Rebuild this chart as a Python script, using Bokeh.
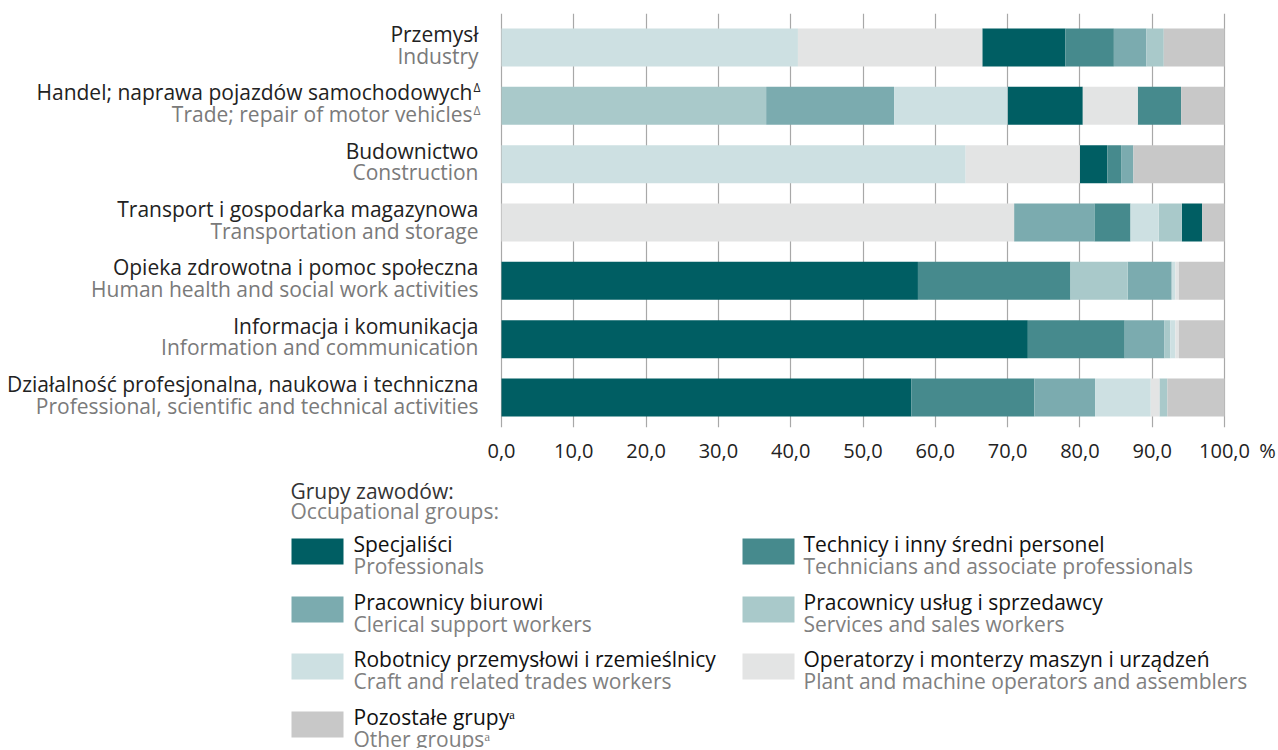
from bokeh.plotting import figure
from bokeh.models import Range1d, FixedTicker, ColumnDataSource
from bokeh.layouts import column
from bokeh.embed import file_html
from bokeh.resources import INLINE
from bokeh.core.properties import value

# ---------------- data ----------------
sectors_pl = [
    "Przemysł",
    "Handel; naprawa pojazdów samochodowych",
    "Budownictwo",
    "Transport i gospodarka magazynowa",
    "Opieka zdrowotna i pomoc społeczna",
    "Informacja i komunikacja",
    "Działalność profesjonalna, naukowa i techniczna",
]
sectors_en = [
    "Industry",
    "Trade; repair of motor vehicles",
    "Construction",
    "Transportation and storage",
    "Human health and social work activities",
    "Information and communication",
    "Professional, scientific and technical activities",
]
sector_marks = ["", "Δ", "", "", "", "", ""]

groups_pl = [
    "Specjaliści",
    "Technicy i inny średni personel",
    "Pracownicy biurowi",
    "Pracownicy usług i sprzedawcy",
    "Robotnicy przemysłowi i rzemieślnicy",
    "Operatorzy i monterzy maszyn i urządzeń",
    "Pozostałe grupyᵃ",
]
groups_en = [
    "Professionals",
    "Technicians and associate professionals",
    "Clerical support workers",
    "Services and sales workers",
    "Craft and related trades workers",
    "Plant and machine operators and assemblers",
    "Other groupsᵃ",
]

professionals = [11.5, 10.4, 3.8, 2.8, 57.6, 72.8, 56.7]
technicians   = [6.7, 6.0, 1.9, 5.0, 21.1, 13.4, 17.0]
clerical      = [4.5, 17.7, 1.7, 11.1, 6.1, 5.5, 8.4]
services      = [2.4, 36.6, 0.0, 3.2, 7.9, 0.8, 1.1]
craft         = [41.0, 15.7, 64.2, 3.9, 0.5, 0.7, 7.7]
operators     = [25.5, 7.6, 15.8, 70.9, 0.5, 0.5, 1.2]
others        = [8.4, 6.0, 12.6, 3.1, 6.3, 6.3, 7.9]

tick_values = [0, 10, 20, 30, 40, 50, 60, 70, 80, 90, 100]
tick_labels = ["0,0", "10,0", "20,0", "30,0", "40,0", "50,0", "60,0",
               "70,0", "80,0", "90,0", "100,0"]
unit_label = "%"

colors = ["#005e63", "#468a8d", "#7babaf", "#a9c9ca", "#cde0e2", "#e3e4e4", "#c8c8c8"]

series = [professionals, technicians, clerical, services, craft, operators, others]

FONT = "Open Sans"
n = len(sectors_pl)

# ---------------- stacking (each row sorted descending, "others" last) ----------------
lefts = [[0.0] * n for _ in series]
rights = [[0.0] * n for _ in series]
for r in range(n):
    vals = [s[r] for s in series]
    order = sorted(range(6), key=lambda g: -vals[g]) + [6]
    acc = 0.0
    for g in order:
        lefts[g][r] = acc
        acc += vals[g]
        rights[g][r] = acc

ypos = [n - 1 - i for i in range(n)]

# ---------------- main chart ----------------
W = 1276
zero_px = 501          # canvas x of value 0
px_per_unit = 7.23     # canvas px per percentage point
x0 = -zero_px / px_per_unit
x1 = x0 + W / px_per_unit
frame_h = 414
y0, y1 = -0.514, n - 1 + 0.583
row_px = frame_h / (y1 - y0)

# unit sign sits as an extra axis label a little right of the last tick
unit_pos = tick_values[-1] + 43 / px_per_unit
axis_ticks = tick_values + [unit_pos]
axis_labels = {v: l for v, l in zip(tick_values, tick_labels)}
axis_labels[unit_pos] = unit_label

p = figure(width=W, height=478, output_backend="svg", toolbar_location=None,
           x_range=Range1d(x0, x1), y_range=Range1d(y0, y1),
           min_border_left=0, min_border_right=0, min_border_top=13,
           min_border_bottom=51)
p.outline_line_color = None
p.background_fill_color = "white"
p.border_fill_color = "white"
p.ygrid.grid_line_color = None
p.yaxis.visible = False
p.xgrid.ticker = FixedTicker(ticks=tick_values)
p.xgrid.grid_line_color = "#a8a8a8"
p.xgrid.grid_line_width = 1.2
p.xaxis.ticker = FixedTicker(ticks=axis_ticks)
p.xaxis.major_label_overrides = axis_labels
p.xaxis.axis_line_color = None
p.xaxis.major_tick_line_color = None
p.xaxis.minor_tick_line_color = None
p.xaxis.major_label_standoff = 3
p.xaxis.major_label_text_font = FONT
p.xaxis.major_label_text_font_size = "20px"
p.xaxis.major_label_text_color = "#222222"

for g in range(7):
    src = ColumnDataSource(dict(y=ypos, left=lefts[g], right=rights[g]))
    p.hbar(y="y", left="left", right="right", height=0.651, source=src,
           fill_color=colors[g], line_color=None)

# row labels (two lines, right-aligned left of the bars)
lab_x, lab_pl_y, lab_en_y = [], [], []
mark_x, mark_pl_y, mark_en_y, mark_txt = [], [], [], []
for i in range(n):
    right_edge = -23 if not sector_marks[i] else -29
    lab_x.append(right_edge / px_per_unit)
    lab_pl_y.append(ypos[i] + 13.5 / row_px)
    lab_en_y.append(ypos[i] - 8 / row_px)
    if sector_marks[i]:
        mark_x.append((right_edge + 1) / px_per_unit)
        mark_pl_y.append(ypos[i] + 18 / row_px)
        mark_en_y.append(ypos[i] - 5 / row_px)
        mark_txt.append(sector_marks[i])

p.text(x=lab_x, y=lab_pl_y, text=sectors_pl, text_font=value(FONT),
       text_font_size=value("21px"), text_color="#222222", text_align="right",
       text_baseline="middle")
p.text(x=lab_x, y=lab_en_y, text=sectors_en, text_font=value(FONT),
       text_font_size=value("21px"), text_color="#7a7a7a", text_align="right",
       text_baseline="middle")
p.text(x=mark_x, y=mark_pl_y, text=mark_txt, text_font=value(FONT),
       text_font_size=value("12px"), text_color="#222222", text_align="left",
       text_baseline="middle")
p.text(x=mark_x, y=mark_en_y, text=mark_txt, text_font=value(FONT),
       text_font_size=value("12px"), text_color="#7a7a7a", text_align="left",
       text_baseline="middle")

# ---------------- legend ----------------
LH = 270
L = figure(width=W, height=LH, output_backend="svg", toolbar_location=None,
           x_range=Range1d(0, W), y_range=Range1d(LH, 0),
           min_border=0, min_border_left=0, min_border_right=0,
           min_border_top=0, min_border_bottom=0)
L.outline_line_color = None
L.axis.visible = False
L.grid.grid_line_color = None

L.text(x=[290], y=[12], text=["Grupy zawodów:"], text_font=value(FONT),
       text_font_size=value("21px"), text_color="#333333", text_align="left",
       text_baseline="middle")
L.text(x=[290], y=[32], text=["Occupational groups:"], text_font=value(FONT),
       text_font_size=value("21px"), text_color="#808080", text_align="left",
       text_baseline="middle")

sw_left, sw_right, sw_top, sw_bot, tx, ty1, ty2 = [], [], [], [], [], [], []
col_x = [291, 742]
text_x = [353, 803]
col_w = 52
row_top = [60, 118, 175, 233]
for g in range(7):
    c = g % 2
    r = g // 2
    sw_left.append(col_x[c])
    sw_right.append(col_x[c] + col_w)
    sw_top.append(row_top[r])
    sw_bot.append(row_top[r] + 26)
    tx.append(text_x[c])
    ty1.append(row_top[r] + 5)
    ty2.append(row_top[r] + 27.5)

L.quad(left=sw_left, right=sw_right, top=sw_top, bottom=sw_bot,
       fill_color=colors, line_color=None)
L.text(x=tx, y=ty1, text=groups_pl, text_font=value(FONT), text_font_size=value("21px"),
       text_color="#111111", text_align="left", text_baseline="middle")
L.text(x=tx, y=ty2, text=groups_en, text_font=value(FONT), text_font_size=value("21px"),
       text_color="#808080", text_align="left", text_baseline="middle")

layout = column(p, L, spacing=0)
open("out.html", "w").write(file_html(layout, INLINE))
